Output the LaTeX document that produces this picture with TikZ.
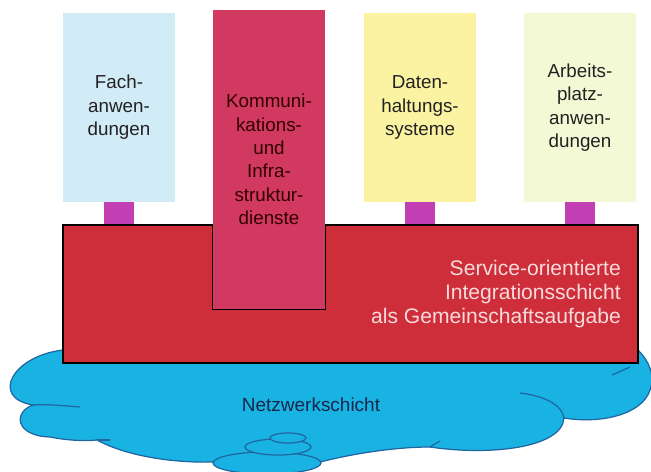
\documentclass[tikz,border=0pt]{standalone}
\usepackage{fontspec}
\setmainfont{Liberation Sans}
\usetikzlibrary{calc}
\definecolor{fachblue}{HTML}{D2ECF7}
\definecolor{datenyellow}{HTML}{FBF3A2}
\definecolor{platzgreen}{HTML}{F3F9D5}
\definecolor{kommred}{HTML}{D13960}
\definecolor{layerred}{HTML}{CD2E39}
\definecolor{layertext}{HTML}{F8DADC}
\definecolor{stubmagenta}{HTML}{C23EB3}
\definecolor{cloudblue}{HTML}{19B3E3}
\definecolor{cloudedge}{HTML}{2065A0}
\definecolor{cloudtext}{HTML}{16284A}
\definecolor{pillartext}{HTML}{222222}
\tikzset{
    pillar/.style={rectangle, inner sep=0pt, minimum width=2.24cm,
        align=center, text=pillartext,
        font=\fontsize{10.7}{13.3}\selectfont}, % upright boxes on the layer
    stub/.style={draw=stubmagenta, line width=0.6cm, shorten >=0.4pt},
    cloudline/.style={draw=cloudedge, line width=0.7pt},
    puff/.style={fill=cloudblue, cloudline},
}

\begin{document}
\begin{tikzpicture}[x=0.02cm, y=-0.02cm]
    \useasboundingbox (0,0) rectangle (651,472);
    % cloud
    \filldraw[fill=cloudblue, cloudline] (63,350)
        .. controls (12,356) and (-10,398) .. (33,405)
        .. controls (13,412) and (15,436) .. (50,437)
        .. controls (70,441) and (88,441) .. (97,440)
        .. controls (130,458) and (180,463) .. (213,462)
        -- (320,462)
        .. controls (360,452) and (400,447) .. (430,447)
        .. controls (490,456) and (562,448) .. (564,418)
        .. controls (600,424) and (642,415) .. (650,390)
        .. controls (656,375) and (648,360) .. (638,350) -- cycle;
    \draw[cloudline] (33,405) .. controls (50,404) and (65,406) .. (80,407);
    \draw[cloudline] (97,440) -- (110,440);
    \draw[cloudline] (430,447) -- (440,441);
    \draw[cloudline] (520,393) .. controls (545,396) and (562,405) .. (564,418);
    \draw[cloudline] (612,375) -- (630,367);
    \draw[puff] (267,463) ellipse (54 and 11);
    \draw[puff] (278,447) ellipse (33 and 8);
    \draw[puff] (288,438) ellipse (18 and 5);
    \node[text=cloudtext, font=\fontsize{10.8}{13}\selectfont] (netz) at (311,405) {Netzwerkschicht};

    % integration layer
    \node[draw=black, line width=0.8pt, fill=layerred, inner sep=0pt,
        minimum width=11.5cm, minimum height=2.76cm] (layer) at (350.5,294) {};
    \node[anchor=east, align=right, text=layertext,
        font=\fontsize{12}{13.8}\selectfont] (layertxt) at (627,294)
        {Service-orientierte\\Integrationsschicht\\als Gemeinschaftsaufgabe};

    % pillars
    \node[pillar, fill=fachblue, minimum height=3.78cm] (fach) at (119,107.5) {Fach-\\anwen-\\dungen};
    \node[pillar, fill=datenyellow, minimum height=3.78cm] (daten) at (420,107.5) {Daten-\\haltungs-\\systeme};
    \node[pillar, fill=platzgreen, minimum height=3.78cm] (platz) at (580,107.5) {Arbeits-\\platz-\\anwen-\\dungen};
    \node[pillar, fill=kommred, text=black!80!red, minimum height=5.98cm] (komm) at (269,159.5)
        {Kommuni-\\kations-\\und\\Infra-\\struktur-\\dienste};
    \draw[line width=0.8pt] (komm.west |- layer.north) -- (komm.south west)
        -- (komm.south east) -- (komm.east |- layer.north);

    \draw[stub] (fach.south) -- (fach.south |- layer.north);
    \draw[stub] (daten.south) -- (daten.south |- layer.north);
    \draw[stub] (platz.south) -- (platz.south |- layer.north);
\end{tikzpicture}
\end{document}
